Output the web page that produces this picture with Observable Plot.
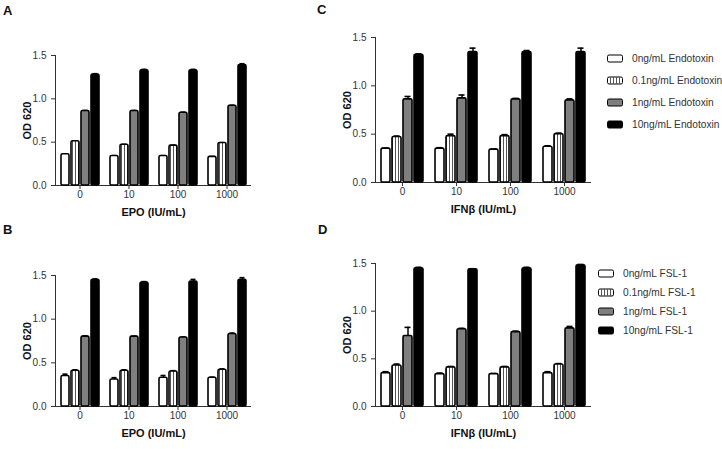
<!DOCTYPE html>
<html>
<head>
<meta charset="utf-8">
<script src="https://cdn.jsdelivr.net/npm/d3@7"></script>
<script src="https://cdn.jsdelivr.net/npm/@observablehq/plot@0.6"></script>
<style>
  body { margin: 0; background: #fff; font-family: "Liberation Sans", Arial, sans-serif; }
  #root { position: relative; width: 722px; height: 449px; overflow: hidden; background: #fff; }
  .panel { position: absolute; }
  .letter { position: absolute; font-weight: bold; font-size: 13px; color: #111; line-height: 1; }
  .legend { position: absolute; font-size: 10.2px; color: #333; }
  .legend .row { position: absolute; left: 0; display: flex; align-items: center; white-space: nowrap; transform: translateY(-50%); }
  .legend .sw { box-sizing: border-box; border: 1.6px solid #000; border-radius: 2px; }
</style>
</head>
<body>
<div id="root">
  <svg width="0" height="0" style="position:absolute">
    <defs>
      <pattern id="stripes" width="3" height="4" patternUnits="userSpaceOnUse">
        <rect width="3" height="4" fill="#fff"></rect>
        <rect x="2" width="1" height="4" fill="#555"></rect>
      </pattern>
    </defs>
  </svg>
</div>
<script>
// ---------- data ----------
const doses = ["0", "10", "100", "1000"];
const endotoxinSeries = ["0ng/mL Endotoxin", "0.1ng/mL Endotoxin", "1ng/mL Endotoxin", "10ng/mL Endotoxin"];
const fslSeries = ["0ng/mL FSL-1", "0.1ng/mL FSL-1", "1ng/mL FSL-1", "10ng/mL FSL-1"];
const yTicks = [0, 0.5, 1.0, 1.5];
const seriesFills = ["#ffffff", "url(#stripes)", "#7f7f7f", "#000000"];

// Panel A: EPO + Endotoxin (rows = series, columns = doses)
const aValues = [[0.36, 0.34, 0.34, 0.33], [0.51, 0.47, 0.46, 0.49], [0.86, 0.86, 0.84, 0.92], [1.28, 1.33, 1.33, 1.39]];
const aErrors = [[0.004, 0.004, 0.004, 0.004], [0.004, 0.004, 0.004, 0.004], [0.005, 0.005, 0.005, 0.005], [0.01, 0.01, 0.01, 0.015]];
// Panel B: EPO + FSL-1
const bValues = [[0.35, 0.31, 0.33, 0.33], [0.41, 0.41, 0.40, 0.42], [0.80, 0.80, 0.79, 0.83], [1.45, 1.42, 1.43, 1.45]];
const bErrors = [[0.02, 0.02, 0.025, 0.005], [0.01, 0.01, 0.01, 0.01], [0.01, 0.005, 0.005, 0.01], [0.01, 0.01, 0.025, 0.025]];
// Panel C: IFNβ + Endotoxin
const cValues = [[0.35, 0.35, 0.34, 0.37], [0.47, 0.48, 0.48, 0.50], [0.86, 0.87, 0.86, 0.85], [1.32, 1.35, 1.35, 1.35]];
const cErrors = [[0.005, 0.01, 0.005, 0.01], [0.01, 0.02, 0.015, 0.01], [0.03, 0.035, 0.01, 0.015], [0.01, 0.04, 0.015, 0.04]];
// Panel D: IFNβ + FSL-1
const dValues = [[0.35, 0.34, 0.34, 0.35], [0.43, 0.41, 0.41, 0.44], [0.74, 0.81, 0.78, 0.82], [1.45, 1.44, 1.45, 1.48]];
const dErrors = [[0.015, 0.01, 0.005, 0.015], [0.015, 0.01, 0.01, 0.01], [0.09, 0.01, 0.01, 0.02], [0.01, 0.005, 0.01, 0.01]];

const xLabels = {epo: "EPO (IU/mL)", ifn: "IFNβ (IU/mL)"};
const yLabel = "OD 620";

// ---------- chart ----------
const root = document.getElementById("root");

function makePanel({values, errors, series, xLabel, left, top, width, innerHeight}) {
  const rows = [];
  series.forEach((s, i) => doses.forEach((d, j) => rows.push({dose: d, series: s, value: values[i][j], err: errors[i][j]})));
  const marginTop = 15, marginBottom = 40;
  const chart = Plot.plot({
    width, height: marginTop + innerHeight + marginBottom,
    marginLeft: 54, marginRight: 0, marginTop, marginBottom,
    style: {fontFamily: "'Liberation Sans', Arial, sans-serif", fontSize: "10px", color: "#333", background: "transparent", overflow: "visible"},
    fx: {domain: doses, padding: 0},
    x: {domain: series, paddingInner: 0.22, paddingOuter: 0.5, axis: null},
    y: {domain: [0, 1.5]},
    color: {domain: series, range: seriesFills},
    marks: [
      Plot.axisY({ticks: yTicks, tickFormat: d3.format(".1f"), tickSize: 4, label: yLabel, labelAnchor: "center", labelArrow: "none", labelOffset: 32}),
      Plot.axisFx({anchor: "bottom", tickSize: 4, tickPadding: 1, label: xLabel, labelAnchor: "center", labelArrow: "none", labelOffset: 30}),
      Plot.frame({anchor: "left", fx: () => doses[0], stroke: "#333"}),
      Plot.ruleY(rows.filter(r => r.series === series[0]), {fx: "dose", y: () => 0, stroke: "#333"}),
      Plot.ruleX(rows, {fx: "dose", x: "series", y1: "value", y2: d => d.value + d.err, stroke: "#000", strokeWidth: 1.5}),
      Plot.tickY(rows, {fx: "dose", x: "series", y: d => d.value + d.err, stroke: "#000", strokeWidth: 1.6, inset: 1.5}),
      Plot.barY(rows, {fx: "dose", x: "series", y: "value", fill: "series", stroke: "#000", strokeWidth: 1.6, rx: 1.5})
    ]
  });
  d3.select(chart).selectAll('g[aria-label$="axis label"]').attr("font-weight", "bold").attr("font-size", "11px").attr("fill", "#111");
  const div = document.createElement("div");
  div.className = "panel";
  div.style.left = left + "px";
  div.style.top = top + "px";
  div.appendChild(chart);
  root.appendChild(div);
}

makePanel({values: aValues, errors: aErrors, series: endotoxinSeries, xLabel: xLabels.epo, left: 0, top: 40, width: 252, innerHeight: 130});
makePanel({values: bValues, errors: bErrors, series: fslSeries, xLabel: xLabels.epo, left: 0, top: 260, width: 252, innerHeight: 131});
makePanel({values: cValues, errors: cErrors, series: endotoxinSeries, xLabel: xLabels.ifn, left: 320, top: 22, width: 271, innerHeight: 145});
makePanel({values: dValues, errors: dErrors, series: fslSeries, xLabel: xLabels.ifn, left: 320, top: 248, width: 271, innerHeight: 143});

// panel letters
[["A", 3, 4], ["B", 3, 223], ["C", 317, 3], ["D", 318, 223]].forEach(([t, x, y]) => {
  const el = document.createElement("div");
  el.className = "letter"; el.textContent = t;
  el.style.left = x + "px"; el.style.top = y + "px";
  root.appendChild(el);
});

// legends
function makeLegend(series, left, top, rowGap, swW, swH, textGap) {
  const lg = document.createElement("div");
  lg.className = "legend";
  lg.style.left = left + "px"; lg.style.top = top + "px";
  series.forEach((s, i) => {
    const row = document.createElement("div");
    row.className = "row";
    row.style.top = (i * rowGap) + "px";
    const sw = document.createElement("div");
    sw.className = "sw";
    sw.style.width = swW + "px"; sw.style.height = swH + "px";
    sw.style.marginRight = textGap + "px";
    if (i === 1) sw.style.background = "repeating-linear-gradient(90deg, #fff 0 2px, #555 2px 3px)";
    else sw.style.background = seriesFills[i];
    const tx = document.createElement("span");
    tx.textContent = s;
    row.appendChild(sw); row.appendChild(tx);
    lg.appendChild(row);
  });
  root.appendChild(lg);
}
makeLegend(endotoxinSeries, 607, 58, 22, 16, 8, 9);
makeLegend(fslSeries, 598, 273, 19, 16, 8, 9);
</script>
</body>
</html>
